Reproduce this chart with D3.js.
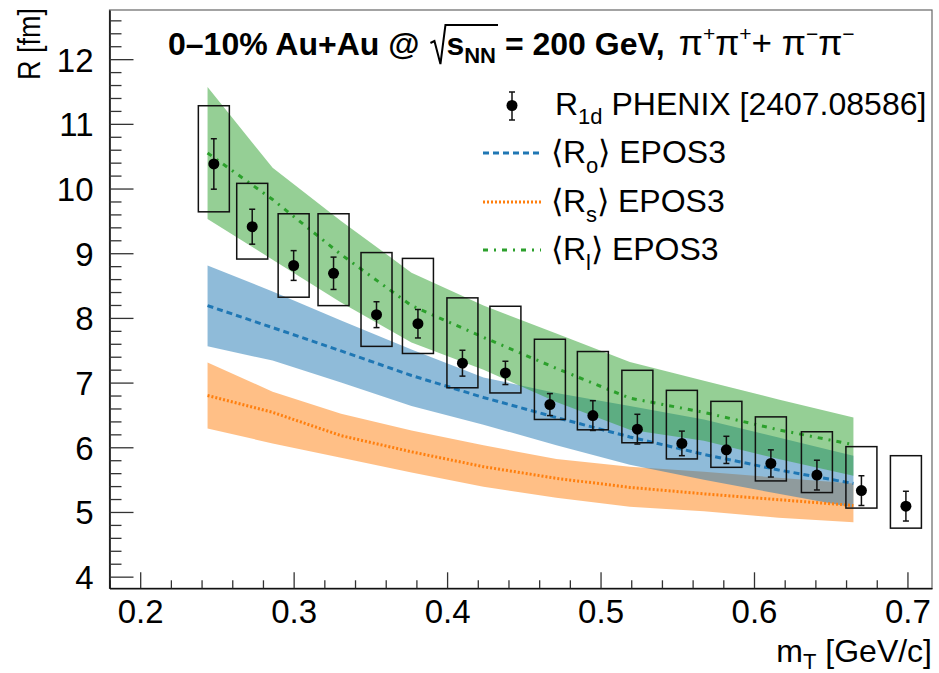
<!DOCTYPE html>
<html>
<head>
<meta charset="utf-8">
<script src="https://cdn.jsdelivr.net/npm/d3@7"></script>
<style>
  body { margin: 0; background: #fff; }
  svg text { font-family: "Liberation Sans", Arial, Helvetica, sans-serif; fill: #000; }
</style>
</head>
<body>
<svg id="chart" width="939" height="673"></svg>
<script>
// PHENIX R_1d points
var mT = [0.248, 0.273, 0.300, 0.326, 0.354, 0.381, 0.410, 0.438, 0.467, 0.495, 0.524, 0.553, 0.582, 0.611, 0.641, 0.670, 0.699];
var R1d = [10.38, 9.41, 8.81, 8.69, 8.05, 7.91, 7.30, 7.15, 6.66, 6.49, 6.28, 6.06, 5.96, 5.75, 5.57, 5.33, 5.09];
var statErr = [0.39, 0.27, 0.23, 0.25, 0.20, 0.22, 0.20, 0.18, 0.17, 0.23, 0.23, 0.19, 0.21, 0.21, 0.23, 0.23, 0.23];
var sysHi = [11.28, 10.08, 9.61, 9.61, 9.01, 8.92, 8.31, 8.18, 7.67, 7.48, 7.19, 6.88, 6.71, 6.47, 6.24, 6.01, 5.87];
var sysLo = [9.64, 8.91, 8.32, 8.19, 7.56, 7.45, 6.92, 6.84, 6.43, 6.27, 6.07, 5.82, 5.69, 5.48, 5.30, 5.06, 4.75];
var mTSys = 0.0101;

// EPOS3 curves
var eposMT = [0.2439, 0.2863, 0.3309, 0.3768, 0.4237, 0.4712, 0.5191, 0.5674, 0.6160, 0.6648];
var RoMean = [8.19, 7.85, 7.49, 7.11, 6.77, 6.46, 6.16, 5.89, 5.65, 5.44];
var RoHi = [8.81, 8.41, 7.96, 7.51, 7.08, 6.84, 6.64, 6.43, 6.15, 5.87];
var RoLo = [7.56, 7.34, 7.00, 6.64, 6.35, 6.03, 5.73, 5.50, 5.28, 5.07];
var RsMean = [6.80, 6.54, 6.18, 5.93, 5.70, 5.52, 5.38, 5.28, 5.19, 5.10];
var RsHi = [7.31, 6.86, 6.52, 6.26, 6.03, 5.82, 5.70, 5.62, 5.53, 5.44];
var RsLo = [6.29, 6.06, 5.84, 5.61, 5.39, 5.22, 5.08, 5.01, 4.91, 4.84];
var RlMean = [10.55, 9.83, 8.98, 8.19, 7.70, 7.22, 6.76, 6.54, 6.27, 6.04];
var RlHi = [11.57, 10.32, 9.50, 8.70, 8.19, 7.76, 7.32, 7.03, 6.74, 6.46];
var RlLo = [9.53, 8.90, 8.24, 7.62, 7.20, 6.70, 6.27, 6.10, 5.82, 5.56];

var xTicks = [0.2, 0.3, 0.4, 0.5, 0.6, 0.7];
var yTicks = [4, 5, 6, 7, 8, 9, 10, 11, 12];

var svg = d3.select('#chart');
var frame = { left: 109.5, right: 932, top: 10, bottom: 588.3 };

var x = d3.scaleLinear().domain([0.18, 0.716]).range([frame.left, frame.right]);
var y = d3.scaleLinear().domain([3.82, 12.76]).range([frame.bottom, frame.top]);

var colors = { ro: '#1f77b4', rs: '#ff7f0e', rl: '#2ca02c' };

// bands: orange first, then blue, then green so overlaps mix like the original
function drawBand(lo, hi, mean, color) {
  var pts = eposMT.map(function(d, i) { return { x: d, lo: lo[i], hi: hi[i], m: mean[i] }; });
  svg.append('path')
    .datum(pts)
    .attr('fill', color)
    .attr('fill-opacity', 0.5)
    .attr('d', d3.area()
      .x(function(d) { return x(d.x); })
      .y0(function(d) { return y(d.lo); })
      .y1(function(d) { return y(d.hi); }));
  return pts;
}

var bandRs = drawBand(RsLo, RsHi, RsMean, colors.rs);
var bandRo = drawBand(RoLo, RoHi, RoMean, colors.ro);
var bandRl = drawBand(RlLo, RlHi, RlMean, colors.rl);

function drawMean(pts, color, dash) {
  svg.append('path')
    .datum(pts)
    .attr('fill', 'none')
    .attr('stroke', color)
    .attr('stroke-width', 3)
    .attr('stroke-dasharray', dash)
    .attr('d', d3.line()
      .x(function(d) { return x(d.x); })
      .y(function(d) { return y(d.m); }));
}

var dashRo = '6,4', dashRs = '2,2', dashRl = '5,6,2,6';
drawMean(bandRs, colors.rs, dashRs);
drawMean(bandRo, colors.ro, dashRo);
drawMean(bandRl, colors.rl, dashRl);

// data points
var points = mT.map(function(d, i) {
  return { x: d, y: R1d[i], e: statErr[i], lo: sysLo[i], hi: sysHi[i] };
});

svg.append('g').selectAll('rect')
  .data(points).enter().append('rect')
  .attr('x', function(d) { return x(d.x - mTSys); })
  .attr('y', function(d) { return y(d.hi); })
  .attr('width', function(d) { return x(d.x + mTSys) - x(d.x - mTSys); })
  .attr('height', function(d) { return y(d.lo) - y(d.hi); })
  .attr('fill', 'none')
  .attr('stroke', '#111')
  .attr('stroke-width', 1.5);

function errBar(g, cx, y1, y2) {
  g.append('line').attr('x1', cx).attr('x2', cx).attr('y1', y1).attr('y2', y2);
  g.append('line').attr('x1', cx - 3).attr('x2', cx + 3).attr('y1', y1).attr('y2', y1);
  g.append('line').attr('x1', cx - 3).attr('x2', cx + 3).attr('y1', y2).attr('y2', y2);
}

var errG = svg.append('g').attr('stroke', '#111').attr('stroke-width', 1.5);
points.forEach(function(d) {
  errBar(errG, x(d.x), y(d.y + d.e), y(d.y - d.e));
});

svg.append('g').selectAll('circle')
  .data(points).enter().append('circle')
  .attr('cx', function(d) { return x(d.x); })
  .attr('cy', function(d) { return y(d.y); })
  .attr('r', 5.5)
  .attr('fill', '#000');

// axes, ROOT style ticks inside
svg.append('rect')
  .attr('x', frame.left).attr('y', frame.top)
  .attr('width', frame.right - frame.left).attr('height', frame.bottom - frame.top)
  .attr('fill', 'none').attr('stroke', '#666').attr('stroke-width', 1.2);

var xMinor = d3.range(0.18, 0.717, 0.02).filter(function(v) { return Math.abs(v * 10 - Math.round(v * 10)) > 0.01; });
var yMinor = d3.range(3.8, 12.77, 0.2).filter(function(v) { return v >= 3.82 && Math.abs(v - Math.round(v)) > 0.01; });

var xAxis = svg.append('g').attr('transform', 'translate(0,' + frame.bottom + ')')
  .call(d3.axisBottom(x).tickValues(xTicks).tickSizeInner(-16).tickSizeOuter(0).tickPadding(18)
    .tickFormat(d3.format('.1f')));
svg.append('g').attr('transform', 'translate(0,' + frame.bottom + ')')
  .call(d3.axisBottom(x).tickValues(xMinor).tickSizeInner(-8).tickSizeOuter(0).tickFormat(''))
  .select('.domain').remove();

var yAxis = svg.append('g').attr('transform', 'translate(' + frame.left + ',0)')
  .call(d3.axisLeft(y).tickValues(yTicks).tickSizeInner(-24).tickSizeOuter(0).tickPadding(16));
svg.append('g').attr('transform', 'translate(' + frame.left + ',0)')
  .call(d3.axisLeft(y).tickValues(yMinor).tickSizeInner(-12).tickSizeOuter(0).tickFormat(''))
  .select('.domain').remove();

svg.selectAll('.tick line').attr('stroke', '#333').attr('stroke-width', 1.3);
svg.selectAll('.domain').attr('stroke', '#111').attr('stroke-width', 1.6);
xAxis.selectAll('text').attr('font-size', 33).attr('font-family', '"Liberation Sans", Arial, sans-serif').attr('dy', '0.5em');
yAxis.selectAll('text').attr('font-size', 33).attr('font-family', '"Liberation Sans", Arial, sans-serif').attr('dy', '0.36em');

// axis titles
var xt = svg.append('text').attr('x', frame.right).attr('y', 662)
  .attr('text-anchor', 'end').attr('font-size', 32);
xt.append('tspan').text('m');
xt.append('tspan').attr('font-size', 22).attr('dy', 7).text('T');
xt.append('tspan').attr('dy', -7).text(' [GeV/c]');

svg.append('text')
  .attr('transform', 'translate(40,8) rotate(-90)')
  .attr('text-anchor', 'end')
  .attr('font-size', 31)
  .attr('textLength', 72)
  .attr('lengthAdjust', 'spacingAndGlyphs')
  .text('R [fm]');

// title
function drawTitle() {
  var bx = 168, by = 55;
  var t1 = svg.append('text').attr('x', bx).attr('y', by)
    .attr('font-size', 32).attr('font-weight', 'bold').text('0–10% Au+Au @');
  var cx = bx + t1.node().getComputedTextLength() + 11;
  var sx = cx + 16;
  var t2 = svg.append('text').attr('x', sx).attr('y', by)
    .attr('font-size', 32).attr('font-weight', 'bold');
  t2.append('tspan').text('s');
  t2.append('tspan').attr('font-size', 22).attr('dy', 8).text('NN');
  var rootEnd = sx + t2.node().getComputedTextLength() + 2;
  t2.append('tspan').attr('dy', -8).text(' = 200 GeV,');
  svg.append('path')
    .attr('d', 'M' + (cx) + ',' + (by - 12) + 'L' + (cx + 4) + ',' + (by - 14) +
      'L' + (cx + 10) + ',' + (by + 9) + 'L' + (cx + 15) + ',' + (by - 30) + 'L' + rootEnd + ',' + (by - 30))
    .attr('fill', 'none').attr('stroke', '#000').attr('stroke-width', 2);
  var px = sx + t2.node().getComputedTextLength() + 14;
  var t3 = svg.append('text').attr('x', px).attr('y', by)
    .attr('font-size', 35).attr('font-family', '"Liberation Serif", "Times New Roman", serif');
  t3.append('tspan').text('π');
  t3.append('tspan').attr('font-size', 21).attr('dy', -14).text('+');
  t3.append('tspan').attr('dy', 14).text('π');
  t3.append('tspan').attr('font-size', 21).attr('dy', -14).text('+');
  t3.append('tspan').attr('dy', 14).text('+ π');
  t3.append('tspan').attr('font-size', 21).attr('dy', -14).text('−');
  t3.append('tspan').attr('dy', 14).text('π');
  t3.append('tspan').attr('font-size', 21).attr('dy', -14).text('−');
}
drawTitle();

// legend
var leg = svg.append('g');
var legRows = [105, 153, 202, 250];
var lg = leg.append('g').attr('stroke', '#111').attr('stroke-width', 1.5);
errBar(lg, 512, 92, 120);
leg.append('circle').attr('cx', 512).attr('cy', 105.5).attr('r', 5.5).attr('fill', '#000');

var t = leg.append('text').attr('x', 555).attr('y', legRows[0] + 10).attr('font-size', 32);
t.append('tspan').text('R');
t.append('tspan').attr('font-size', 22).attr('dy', 9).text('1d');
t.append('tspan').attr('dy', -9).text(' PHENIX [2407.08586]');

var legModels = [
  { sub: 'o', color: colors.ro, dash: dashRo },
  { sub: 's', color: colors.rs, dash: dashRs },
  { sub: 'l', color: colors.rl, dash: dashRl }
];
legModels.forEach(function(m, i) {
  var ry = legRows[i + 1];
  leg.append('line').attr('x1', 483).attr('x2', 541).attr('y1', ry).attr('y2', ry)
    .attr('stroke', m.color).attr('stroke-width', 3).attr('stroke-dasharray', m.dash);
  var tt = leg.append('text').attr('x', 551).attr('y', ry + 10).attr('font-size', 32);
  tt.append('tspan').text('⟨R');
  tt.append('tspan').attr('font-size', 22).attr('dy', 10).text(m.sub);
  tt.append('tspan').attr('dy', -10).text('⟩ EPOS3');
});
</script>
</body>
</html>
